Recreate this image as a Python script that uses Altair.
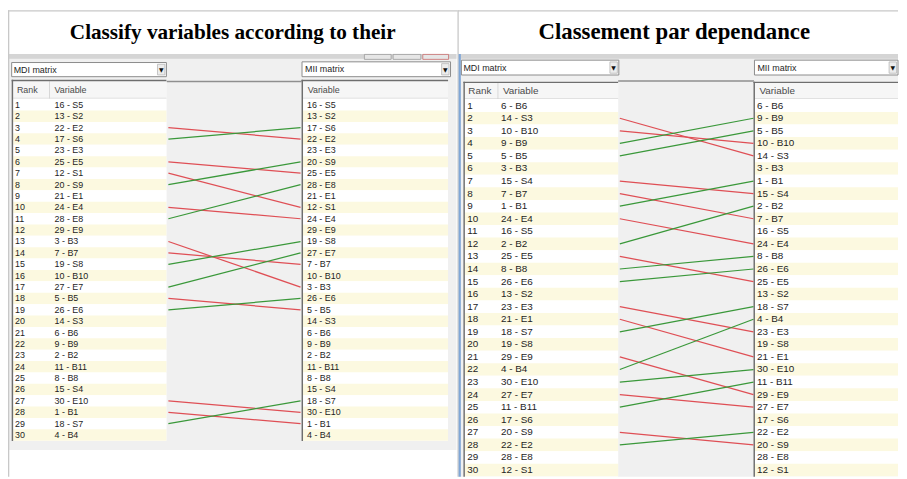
import altair as alt
import pandas as pd

# ---------------- data ----------------
TITLE_LEFT = "Classify variables according to their"
TITLE_RIGHT = "Classement par dependance"
LIST_LEFT_LABEL = "MDI matrix"
LIST_RIGHT_LABEL = "MII matrix"
HEAD_RANK = "Rank"
HEAD_VAR = "Variable"

left_mdi = ["16 - S5", "13 - S2", "22 - E2", "17 - S6", "23 - E3", "25 - E5", "12 - S1",
            "20 - S9", "21 - E1", "24 - E4", "28 - E8", "29 - E9", "3 - B3", "7 - B7",
            "19 - S8", "10 - B10", "27 - E7", "5 - B5", "26 - E6", "14 - S3", "6 - B6",
            "9 - B9", "2 - B2", "11 - B11", "8 - B8", "15 - S4", "30 - E10", "1 - B1",
            "18 - S7", "4 - B4"]
left_mii = ["16 - S5", "13 - S2", "17 - S6", "22 - E2", "23 - E3", "20 - S9", "25 - E5",
            "28 - E8", "21 - E1", "12 - S1", "24 - E4", "29 - E9", "19 - S8", "27 - E7",
            "7 - B7", "10 - B10", "3 - B3", "26 - E6", "5 - B5", "14 - S3", "6 - B6",
            "9 - B9", "2 - B2", "11 - B11", "8 - B8", "15 - S4", "18 - S7", "30 - E10",
            "1 - B1", "4 - B4"]
right_mdi = ["6 - B6", "14 - S3", "10 - B10", "9 - B9", "5 - B5", "3 - B3", "15 - S4",
             "7 - B7", "1 - B1", "24 - E4", "16 - S5", "2 - B2", "25 - E5", "8 - B8",
             "26 - E6", "13 - S2", "23 - E3", "21 - E1", "18 - S7", "19 - S8", "29 - E9",
             "4 - B4", "30 - E10", "27 - E7", "11 - B11", "17 - S6", "20 - S9", "22 - E2",
             "28 - E8", "12 - S1"]
right_mii = ["6 - B6", "9 - B9", "5 - B5", "10 - B10", "14 - S3", "3 - B3", "1 - B1",
             "15 - S4", "2 - B2", "7 - B7", "16 - S5", "24 - E4", "8 - B8", "26 - E6",
             "25 - E5", "13 - S2", "18 - S7", "4 - B4", "23 - E3", "19 - S8", "21 - E1",
             "30 - E10", "11 - B11", "29 - E9", "27 - E7", "17 - S6", "22 - E2", "20 - S9",
             "28 - E8", "12 - S1"]

# ---------------- style ----------------
RED = "#df4f55"
GREEN = "#3a983a"
YELLOW = "#fcf9e0"
WIN_BG = "#f0f0f0"
BAND = "#d5d5d5"
CELL_BORDER = "#c8c8c8"
DARK_BORDER = "#6e6e6e"
TXT = "#1e1e1e"
HEAD_TXT = "#4a4a4a"
UI_FONT = "Liberation Sans"
TITLE_FONT = "Liberation Serif"

one = pd.DataFrame({"k": [0]})


def box(x0, x1, y0, y1, fill, stroke="", sw=0):
    kw = dict(fill=fill)
    if stroke:
        kw.update(stroke=stroke, strokeWidth=sw)
    return alt.Chart(one).mark_rect(**kw).encode(
        x=alt.value(x0), x2=alt.value(x1), y=alt.value(y0), y2=alt.value(y1))


def label(x, y, s, size, color=TXT, align="left", font=UI_FONT, weight="normal",
          baseline="middle"):
    return alt.Chart(one).mark_text(
        align=align, baseline=baseline, fontSize=size, font=font,
        fontWeight=weight, color=color).encode(
        x=alt.value(x), y=alt.value(y), text=alt.value(s))


def dropdown(x0, x1, y0, y1, text, tx, size):
    ym = (y0 + y1) / 2
    bx0 = x1 - 9
    return [
        box(x0, x1, y0, y1, "white", "#8c8c8c", 1),
        box(bx0, x1 - 1.5, y0 + 1.8, y1 - 1.8, "#ececec", "#b8b8b8", 0.8),
        label((bx0 + x1 - 1.5) / 2, ym + 0.5, "\u25BC", 6, "#111", align="center",
              font="DejaVu Sans"),
        label(tx, ym, text, size),
    ]


def table(rows, ys, x0, x1, ytop, ybot, head_y0, head_y1, cols, size):
    """cols: list of (field, text_x, header_text, header_x)"""
    layers = [box(x0, x1, ytop, ybot, "white")]
    base = alt.Chart(rows).transform_calculate(lo="datum.rank - 0.5", hi="datum.rank + 0.5")
    layers.append(base.mark_rect().encode(
        x=alt.value(x0 + 1.5), x2=alt.value(x1),
        y=alt.Y("lo:Q", scale=ys, axis=None), y2="hi:Q",
        color=alt.condition("datum.rank % 2 === 0", alt.value(YELLOW), alt.value("white"))))
    # header
    layers.append(box(x0 + 1.5, x1, head_y0, head_y1, "#f6f6f6"))
    layers.append(box(x0 + 1.5, x1, head_y1 - 0.8, head_y1, "#dadada"))
    hy = (head_y0 + head_y1) / 2
    for i, (field, tx, htxt, hx) in enumerate(cols):
        layers.append(label(hx, hy, htxt, size, HEAD_TXT))
        if i > 0:
            layers.append(box(hx - 5.5, hx - 4.7, head_y0, head_y1, "#d0d0d0"))
        layers.append(alt.Chart(rows).mark_text(
            align="left", baseline="middle", fontSize=size, font=UI_FONT, color=TXT).encode(
            x=alt.value(tx), y=alt.Y("rank:Q", scale=ys, axis=None), text=f"{field}"))
    # sunken border
    layers.append(box(x0, x0 + 1.5, ytop, ybot, DARK_BORDER))
    layers.append(box(x0, x1, ytop, ytop + 1.5, DARK_BORDER))
    return layers


def panel(title, mdi, mii, G):
    n = len(mdi)
    rows = pd.DataFrame({"rank": list(range(1, n + 1)), "mdi": mdi, "mii": mii})
    pos_mii = {v: i + 1 for i, v in enumerate(mii)}
    moves = pd.DataFrame({"var": mdi, "r0": list(range(1, n + 1)),
                          "r1": [pos_mii[v] for v in mdi]})
    moves = moves[moves["r0"] != moves["r1"]].copy()
    moves["dir"] = ["down" if b > a else "up" for a, b in zip(moves["r0"], moves["r1"])]

    ys = alt.Scale(domain=[1, n], range=[G["y1"], G["yn"]], zero=False, nice=False)
    xs = alt.Scale(domain=[0, 1], range=[G["lx0"], G["lx1"]], zero=False, nice=False)
    W, H = G["W"], G["H"]

    L = []
    L.append(box(0, W, 0, H, "white"))
    # window screenshot background
    L.append(box(1, G["win_x1"], 44, G["win_y1"], WIN_BG))
    L.append(box(1, G["win_x1"], 44, 49, BAND))
    # html cell borders
    L.append(box(0, W, 0, 1.2, CELL_BORDER))
    L.append(box(0, 1.3, 0, H, CELL_BORDER))
    if G.get("blue"):
        L.append(box(1.2, 3.4, 44, H, "#7fa6d6"))
    for (bx0, bx1, c) in G.get("buttons", []):
        L.append(box(bx0, bx1, 44.5, 49.5, "#e6e6e6", c, 0.8))
    # title
    L.append(label(G["title_x"], 28.5, title, G["title_size"], "black", align="center",
                   font=TITLE_FONT, weight="bold", baseline="alphabetic"))
    # dropdowns
    L += dropdown(*G["dd_left"], LIST_LEFT_LABEL, G["dd_left"][0] + 2, 9)
    L += dropdown(*G["dd_right"], LIST_RIGHT_LABEL, G["dd_right"][0] + 3, 9)
    # middle area top border
    L.append(box(G["mid_x0"], G["mid_x1"], G["mid_y"], G["mid_y"] + 1.5, "#8f8f8f"))
    # tables
    L += table(rows, ys, G["t1_x0"], G["t1_x1"], G["t_top"], G["t_bot"],
               G["t_top"] + 1.5, G["head_bot"],
               [("rank", G["num_x"], HEAD_RANK, G["rank_hx"]),
                ("mdi", G["var_x"], HEAD_VAR, G["var_hx"])], G["fs"])
    L += table(rows, ys, G["t2_x0"], G["t2_x1"], G["t_top"], G["t_bot"],
               G["t_top"] + 1.5, G["head_bot"],
               [("mii", G["var2_x"], HEAD_VAR, G["var2_hx"])], G["fs"])
    # connecting lines
    L.append(alt.Chart(moves).transform_calculate(a="0", b="1").mark_rule(
        strokeWidth=1.25).encode(
        x=alt.X("a:Q", scale=xs, axis=None), x2="b:Q",
        y=alt.Y("r0:Q", scale=ys, axis=None), y2="r1:Q",
        color=alt.Color("dir:N", scale=alt.Scale(domain=["down", "up"],
                                                   range=[RED, GREEN]), legend=None)))
    return alt.layer(*L).properties(width=W, height=H)


G_LEFT = dict(
    W=454, H=471, win_x1=453, win_y1=444, title_x=227, title_size=21.4,
    buttons=[(360, 387, "#9a9a9a"), (389, 417, "#9a9a9a"), (419, 445, "#c96a6a")],
    dd_left=(3.7, 160, 52.7, 67), dd_right=(297, 447, 52, 67),
    mid_x0=160, mid_x1=297, mid_y=71,
    t1_x0=3.7, t1_x1=160, t2_x0=296.5, t2_x1=444.5, t_top=70, t_bot=435, head_bot=89,
    num_x=7, rank_hx=9, var_x=47, var_hx=47, var2_x=302, var2_hx=302.7, fs=9,
    y1=95.5, yn=429, lx0=162, lx1=295.5,
)
G_RIGHT = dict(
    W=445, H=471, win_x1=445, win_y1=471, title_x=219, title_size=23, blue=True,
    dd_left=(4, 163, 50.3, 65.3), dd_right=(300, 445, 50.3, 65.3),
    mid_x0=162.3, mid_x1=299.5, mid_y=70.5,
    t1_x0=6, t1_x1=162.3, t2_x0=299, t2_x1=445, t_top=72, t_bot=471, head_bot=89.5,
    num_x=10, rank_hx=11, var_x=44, var_hx=46, var2_x=302.5, var2_hx=305, fs=10,
    y1=96.3, yn=464.3, lx0=164, lx1=299,
)

left = panel(TITLE_LEFT, left_mdi, left_mii, G_LEFT)
right = panel(TITLE_RIGHT, right_mdi, right_mii, G_RIGHT)

chart = alt.hconcat(left, right, spacing=0, bounds="flush", padding=0,
                    background="white").configure_view(stroke=None)

chart.save("out.html", embed_options={"renderer": "svg", "actions": False})
